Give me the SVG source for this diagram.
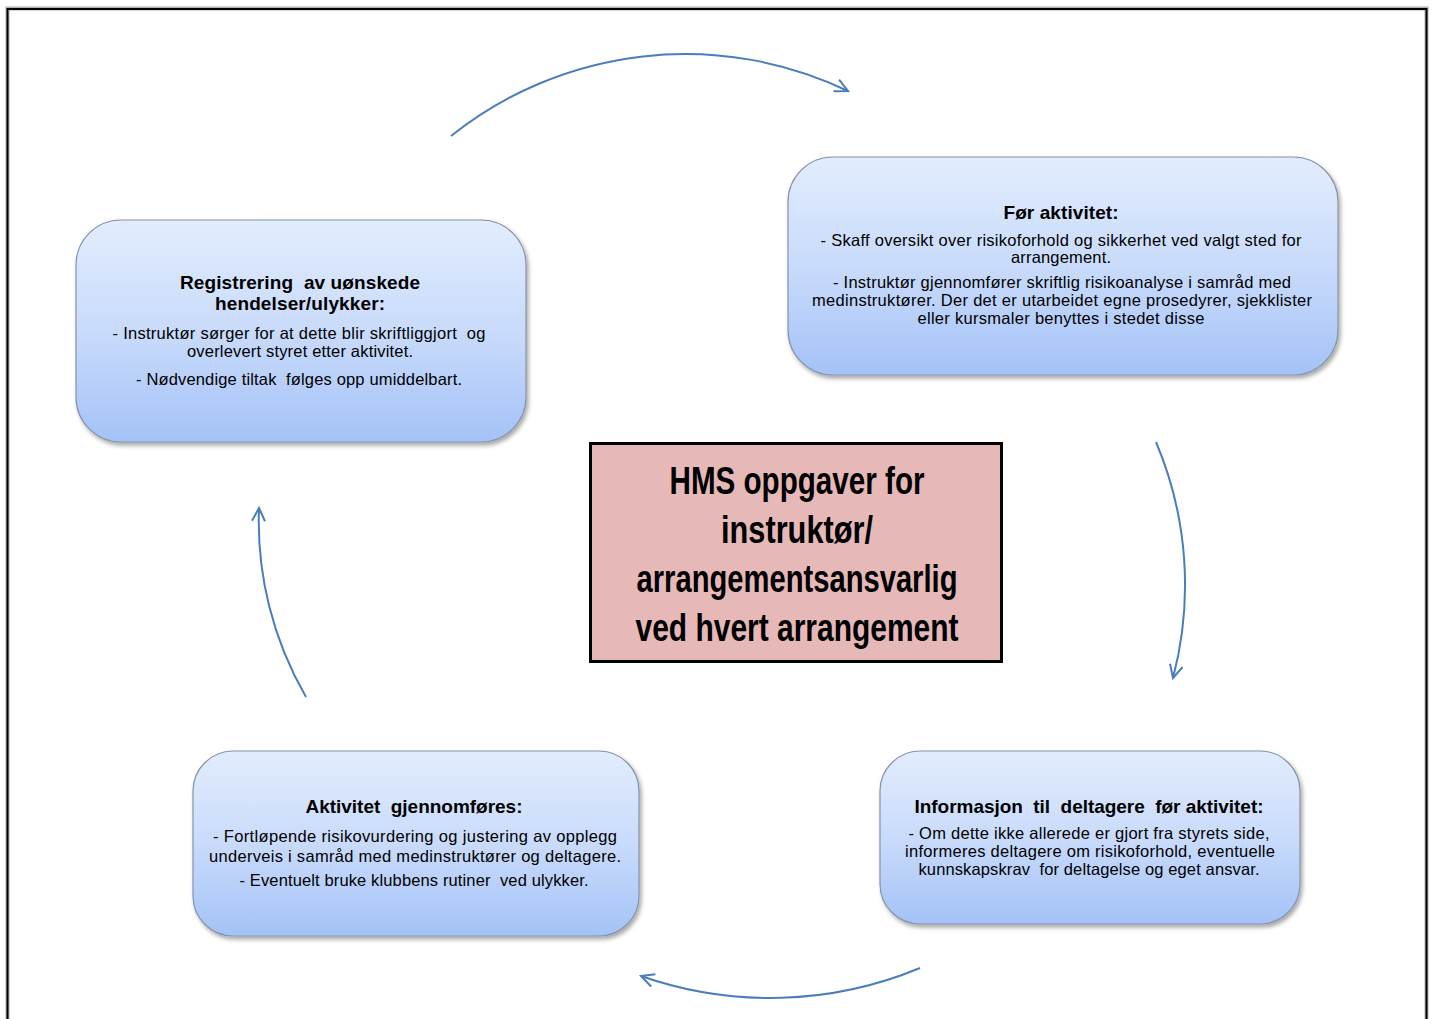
<svg xmlns="http://www.w3.org/2000/svg" width="1433" height="1019" viewBox="0 0 1433 1019">
<style>
.box{fill:url(#g);stroke:#8593a8;stroke-width:1.2;filter:url(#sh)}
.t{font-family:"Liberation Sans",Arial,sans-serif;font-weight:bold;font-size:19px;fill:#000;text-anchor:middle;white-space:pre}
.b{font-family:"Liberation Sans",Arial,sans-serif;font-size:16.5px;fill:#000;text-anchor:middle;white-space:pre}
.c{font-family:"Liberation Sans",Arial,sans-serif;font-weight:bold;font-size:38px;fill:#000;text-anchor:middle}
.arr{fill:none;stroke:#4a7ebb;stroke-width:2;marker-end:url(#ah)}
</style>
<defs>
<linearGradient id="g" x1="0" y1="0" x2="0" y2="1">
<stop offset="0" stop-color="#e2ecfd"/>
<stop offset="0.5" stop-color="#c9dbfb"/>
<stop offset="1" stop-color="#a4c2f7"/>
</linearGradient>
<filter id="sh" x="-5%" y="-5%" width="112%" height="115%">
<feDropShadow dx="2" dy="3" stdDeviation="2" flood-color="#000" flood-opacity="0.35"/>
</filter>
<marker id="ah" markerUnits="userSpaceOnUse" markerWidth="20" markerHeight="20" viewBox="-16 -10 20 20" refX="0" refY="0" orient="auto">
<path d="M-13,-6.5 L0,0 L-13,6.5" fill="none" stroke="#4a7ebb" stroke-width="2" stroke-linejoin="miter"/>
</marker>
</defs>
<rect x="0" y="0" width="1433" height="1019" fill="#fff"/>
<rect x="7.5" y="8.5" width="1419" height="1040" fill="none" stroke="#b0b0b0" stroke-width="4"/>
<rect x="7.5" y="9" width="1419" height="1040" fill="none" stroke="#000" stroke-width="2"/>

<g id="connectors">
<path class="arr" d="M451,136 A376,376 0 0 1 848,91"/>
<path class="arr" d="M1156,442 A366,366 0 0 1 1173,678"/>
<path class="arr" d="M920,968 A390,390 0 0 1 641,976"/>
<path class="arr" d="M306,697 A350,350 0 0 1 259,508"/>
</g>

<g id="node-center">
<rect x="590.5" y="443.5" width="411" height="218" fill="#e6b8b7" stroke="#000" stroke-width="3"/>
<text class="c" x="797" y="494" textLength="255" lengthAdjust="spacingAndGlyphs">HMS oppgaver for</text>
<text class="c" x="797" y="543" textLength="152" lengthAdjust="spacingAndGlyphs">instruktør/</text>
<text class="c" x="797" y="592" textLength="321" lengthAdjust="spacingAndGlyphs">arrangementsansvarlig</text>
<text class="c" x="797" y="641" textLength="323" lengthAdjust="spacingAndGlyphs">ved hvert arrangement</text>
</g>

<g id="node-for-aktivitet">
<rect class="box" x="788" y="157" width="550" height="218" rx="45" ry="45"/>
<text class="t" x="1061" y="219" textLength="115">Før aktivitet:</text>
<text class="b" x="1061" y="246" textLength="481">- Skaff oversikt over risikoforhold og sikkerhet ved valgt sted for</text>
<text class="b" x="1061" y="263" textLength="100">arrangement.</text>
<text class="b" x="1062" y="288" textLength="458">- Instruktør gjennomfører skriftlig risikoanalyse i samråd med</text>
<text class="b" x="1062" y="306" textLength="500">medinstruktører. Der det er utarbeidet egne prosedyrer, sjekklister</text>
<text class="b" x="1061" y="324" textLength="287">eller kursmaler benyttes i stedet disse</text>
</g>

<g id="node-registrering">
<rect class="box" x="76" y="220" width="450" height="222" rx="45" ry="45"/>
<text class="t" x="300" y="289" textLength="240">Registrering  av uønskede</text>
<text class="t" x="300" y="310" textLength="170">hendelser/ulykker:</text>
<text class="b" x="299" y="339" textLength="373">- Instruktør sørger for at dette blir skriftliggjort  og</text>
<text class="b" x="300" y="357" textLength="226">overlevert styret etter aktivitet.</text>
<text class="b" x="299" y="385" textLength="326">- Nødvendige tiltak  følges opp umiddelbart.</text>
</g>

<g id="node-aktivitet">
<rect class="box" x="193" y="751" width="446" height="185" rx="40" ry="40"/>
<text class="t" x="414" y="813" textLength="217">Aktivitet  gjennomføres:</text>
<text class="b" x="415" y="842" textLength="404">- Fortløpende risikovurdering og justering av opplegg</text>
<text class="b" x="415" y="862" textLength="412">underveis i samråd med medinstruktører og deltagere.</text>
<text class="b" x="414" y="886" textLength="349">- Eventuelt bruke klubbens rutiner  ved ulykker.</text>
</g>

<g id="node-informasjon">
<rect class="box" x="880" y="751" width="420" height="173" rx="40" ry="40"/>
<text class="t" x="1089" y="813" textLength="349">Informasjon  til  deltagere  før aktivitet:</text>
<text class="b" x="1089" y="839" textLength="361">- Om dette ikke allerede er gjort fra styrets side,</text>
<text class="b" x="1090" y="857" textLength="370">informeres deltagere om risikoforhold, eventuelle</text>
<text class="b" x="1089" y="875" textLength="341">kunnskapskrav  for deltagelse og eget ansvar.</text>
</g>
</svg>
